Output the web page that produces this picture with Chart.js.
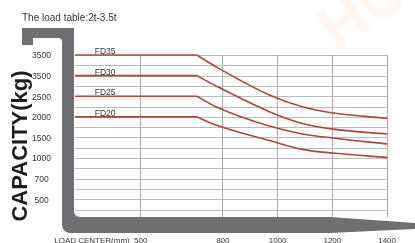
<!DOCTYPE html>
<html>
<head>
<meta charset="utf-8">
<script src="https://cdn.jsdelivr.net/npm/chart.js@4.4.1/dist/chart.umd.min.js"></script>
<style>
  html, body { margin: 0; padding: 0; background: #fff; }
  #wrap { width: 415px; height: 243px; position: relative; }
</style>
</head>
<body>
<div id="wrap"><canvas id="loadChart"></canvas></div>
<script>
/* ── Load table data ── */

const loadCenters = [260, 705, 775, 970, 1090, 1210, 1400];   // mm
const modelNames  = ['FD35', 'FD30', 'FD25', 'FD20'];
const fd35 = [3500, 3500, 3215, 2530, 2245, 2085, 1965];
const fd30 = [3000, 3000, 2750, 2125, 1840, 1695, 1585];
const fd25 = [2500, 2500, 2245, 1775, 1585, 1480, 1340];
const fd20 = [2000, 2000, 1800, 1425, 1210, 1115, 1015];

const xTickValues = [500, 800, 1000, 1200, 1400];
const yTickValues = [3500, 3000, 2500, 2000, 1500, 1000, 500, 0];
const yTickLabels = ['3500', '3500', '2500', '2000', '1500', '1000', '700', '500'];

const LINE_COLOR = '#a9473b';
const FRAME      = '#6e6e73';
const FONT       = "'Liberation Sans', Arial, sans-serif";

Chart.defaults.font.family = FONT;
Chart.defaults.color = '#333';

const series = [fd35, fd30, fd25, fd20];

// flat part up to the knee is straight, the rest is a smooth curve
const datasets = [];
series.forEach((vals, s) => {
    const pts = loadCenters.map((x, i) => ({ x, y: vals[i] }));
    datasets.push({
        label: modelNames[s] + ' flat',
        data: pts.slice(0, 2),
        borderColor: LINE_COLOR, borderWidth: 1.6,
        pointRadius: 0, tension: 0, clip: false,
    });
    datasets.push({
        label: modelNames[s],
        data: pts.slice(1),
        borderColor: LINE_COLOR, borderWidth: 1.6,
        pointRadius: 0, cubicInterpolationMode: 'monotone', clip: false,
    });
});

const forkPlugin = {
    id: 'forkFrame',
    beforeDraw(chart) {
        // faint watermark
        const { ctx } = chart;
        ctx.save();
        ctx.translate(364, 12);
        ctx.rotate(-0.6);
        ctx.font = `bold 62px ${FONT}`;
        ctx.fillStyle = 'rgba(245,185,150,0.13)';
        ctx.textAlign = 'center';
        ctx.textBaseline = 'middle';
        ctx.fillText('HC', 0, 0);
        ctx.restore();
    },
    afterDatasetsDraw(chart) {
        const { ctx, chartArea: { left, right }, scales: { x, y } } = chart;

        // horizontal grid every 250 kg, slipped in under the curves
        ctx.save();
        ctx.globalCompositeOperation = 'destination-over';
        ctx.strokeStyle = '#bbbbbb';
        ctx.lineWidth = 1;
        ctx.beginPath();
        y.ticks.forEach(t => {
            const py = Math.round(y.getPixelForValue(t.value)) + 0.5;
            ctx.moveTo(left, py);
            ctx.lineTo(right, py);
        });
        ctx.stroke();
        ctx.restore();

        ctx.save();
        ctx.font = `8.5px ${FONT}`;
        ctx.fillStyle = '#333';
        ctx.textAlign = 'center';
        ctx.textBaseline = 'alphabetic';
        series.forEach((vals, s) => {
            ctx.fillText(modelNames[s], x.getPixelForValue(370), y.getPixelForValue(vals[0]) - 0.8);
        });
        ctx.restore();
    },
    afterDraw(chart) {
        const { ctx, chartArea: { left, bottom }, width } = chart;
        const L = left - 1, B = bottom;
        ctx.save();
        ctx.fillStyle = FRAME;
        ctx.beginPath();
        ctx.moveTo(22, 28);
        ctx.lineTo(L, 28);
        ctx.lineTo(L, B - 6);
        ctx.arcTo(L, B, L + 6, B, 6);
        ctx.lineTo(330, B);
        ctx.lineTo(width, B + 6);
        ctx.lineTo(width, B + 12);
        ctx.lineTo(330, B + 16);
        ctx.lineTo(L - 4, B + 16);
        ctx.arcTo(L - 12, B + 16, L - 12, B + 8, 8);
        ctx.lineTo(L - 12, 42);
        ctx.arcTo(L - 12, 38, L - 16, 38, 4);
        ctx.lineTo(33, 38);
        ctx.lineTo(33, 45);
        ctx.lineTo(22, 45);
        ctx.closePath();
        ctx.fill();

        // chart title
        ctx.fillStyle = '#333';
        ctx.font = `10px ${FONT}`;
        ctx.textAlign = 'left';
        ctx.textBaseline = 'alphabetic';
        ctx.fillText('The load table:2t-3.5t', 22, 20.5);

        // x axis caption, on the tick label line
        ctx.font = `8px ${FONT}`;
        ctx.textAlign = 'center';
        ctx.textBaseline = 'middle';
        ctx.fillText('LOAD CENTER(mm)', 92, 241);

        // y axis caption
        ctx.translate(26.5, 146);
        ctx.rotate(-Math.PI / 2);
        ctx.font = `bold 22px ${FONT}`;
        ctx.fillStyle = '#1e1e1e';
        ctx.textBaseline = 'alphabetic';
        ctx.fillText('CAPACITY(kg)', 0, 0);
        ctx.restore();
    }
};

new Chart(document.getElementById('loadChart').getContext('2d'), {
    type: 'line',
    data: { datasets },
    plugins: [forkPlugin],
    options: {
        responsive: true,
        maintainAspectRatio: false,
        animation: false,
        events: [],
        layout: { padding: { top: 55, right: 12, left: 0, bottom: 0 } },
        plugins: { legend: { display: false }, tooltip: { enabled: false } },
        scales: {
            x: {
                type: 'linear',
                min: 260, max: 1400,
                afterFit(scale) { scale.height = 26; },
                afterBuildTicks(scale) { scale.ticks = xTickValues.map(v => ({ value: v })); },
                grid: { color: '#a9a9a9', lineWidth: 1, drawTicks: false },
                border: { display: false },
                ticks: {
                    padding: 19, maxRotation: 0, autoSkip: false,
                    font: { size: 8 }, color: '#333',
                    callback: v => String(v),
                },
            },
            y: {
                type: 'linear',
                min: -430, max: 3500,
                afterFit(scale) { scale.width = 75; },
                afterBuildTicks(scale) {
                    const t = [];
                    for (let v = -250; v <= 3500; v += 250) t.push({ value: v });
                    scale.ticks = t;
                },
                grid: { display: false },
                border: { display: false },
                ticks: {
                    padding: 16, crossAlign: 'center', labelOffset: 1,
                    autoSkip: false, font: { size: 8.5 }, color: '#333',
                    callback: v => {
                        const i = yTickValues.indexOf(v);
                        return i >= 0 ? yTickLabels[i] : '';
                    },
                },
            },
        },
    },
});
</script>
</body>
</html>
